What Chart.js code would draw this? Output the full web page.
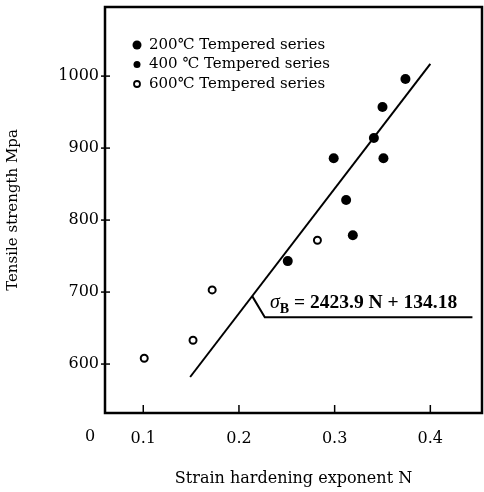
<!DOCTYPE html>
<html>
<head>
<meta charset="utf-8">
<script src="https://cdn.jsdelivr.net/npm/chart.js@4.4.1/dist/chart.umd.min.js"></script>
<style>
    html, body { margin: 0; padding: 0; background: #fff; }
    #wrap { width: 484px; height: 492px; }
</style>
</head>
<body>
<div id="wrap"><canvas id="strengthChart" width="484" height="492"></canvas></div>
<script>
// data
const series200Label = '200℃ Tempered series';
const series400Label = '400 ℃ Tempered series';
const series600Label = '600℃ Tempered series';

const nValues200 = [0.374, 0.350, 0.341, 0.351, 0.299];
const strength200 = [996, 957, 914, 886, 886];

const nValues400 = [0.312, 0.319, 0.251];
const strength400 = [828, 779, 743];

const nValues600 = [0.282, 0.172, 0.152, 0.101];
const strength600 = [772, 703, 633, 608];

const fitN = [0.149, 0.400];
const fitStrength = [582, 1017];

const leaderN = [0.214, 0.227, 0.444];
const leaderStrength = [694, 665, 665];

const xTicks = [0.1, 0.2, 0.3, 0.4];
const yTicks = [600, 700, 800, 900, 1000];
const equationText = ' = 2423.9 N + 134.18';

function toPoints(xs, ys) {
    return xs.map((x, i) => ({ x: x, y: ys[i] }));
}

const serif = '"DejaVu Serif", "Liberation Serif", serif';
const times = '"Liberation Serif", serif';

// frame, inward ticks, legend, equation and the "0" label
const extrasPlugin = {
    id: 'extras',
    afterDraw(chart) {
        const ctx = chart.ctx;
        const area = chart.chartArea;
        const xs = chart.scales.x;
        const ys = chart.scales.y;
        ctx.save();
        ctx.strokeStyle = '#000';
        ctx.lineWidth = 2.5;
        ctx.strokeRect(area.left, area.top, area.right - area.left, area.bottom - area.top);

        ctx.lineWidth = 1.5;
        xTicks.forEach(t => {
            const px = xs.getPixelForValue(t);
            ctx.beginPath();
            ctx.moveTo(px, area.bottom);
            ctx.lineTo(px, area.bottom - 8);
            ctx.stroke();
        });
        yTicks.forEach(t => {
            const py = ys.getPixelForValue(t);
            ctx.beginPath();
            ctx.moveTo(area.left - 4, py);
            ctx.lineTo(area.left + 5, py);
            ctx.stroke();
        });

        ctx.fillStyle = '#000';
        ctx.font = '16px ' + serif;
        ctx.textBaseline = 'middle';
        ctx.textAlign = 'center';
        ctx.fillText('0', area.left - 15, 437);

        // legend inside the plot
        ctx.textAlign = 'left';
        ctx.font = '15px ' + serif;
        const rows = [
            { label: series200Label, r: 4.5, fill: true },
            { label: series400Label, r: 3.5, fill: true },
            { label: series600Label, r: 3, fill: false }
        ];
        rows.forEach((row, i) => {
            const y = 45 + i * 19.5;
            ctx.beginPath();
            ctx.arc(137, y, row.r, 0, Math.PI * 2);
            if (row.fill) {
                ctx.fill();
            } else {
                ctx.lineWidth = 1.8;
                ctx.stroke();
            }
            ctx.fillText(row.label, 149, y);
        });

        // equation
        const ex = 270;
        const ey = 303;
        ctx.font = 'italic 20px ' + times;
        ctx.fillText('σ', ex, ey);
        const sw = ctx.measureText('σ').width;
        ctx.font = 'bold 14px ' + times;
        ctx.fillText('B', ex + sw, ey + 6);
        const bw = ctx.measureText('B').width;
        ctx.font = 'bold 19.5px ' + times;
        ctx.fillText(equationText, ex + sw + bw, ey);
        ctx.restore();
    }
};

function noScalePadding(s) {
    s.paddingTop = 0;
    s.paddingBottom = 0;
    s.paddingLeft = 0;
    s.paddingRight = 0;
}

const ctx = document.getElementById('strengthChart').getContext('2d');
new Chart(ctx, {
    type: 'scatter',
    data: {
        datasets: [
            {
                label: 'fit',
                data: toPoints(fitN, fitStrength),
                showLine: true,
                borderColor: '#000',
                borderWidth: 2,
                pointRadius: 0
            },
            {
                label: 'leader',
                data: toPoints(leaderN, leaderStrength),
                showLine: true,
                borderColor: '#000',
                borderWidth: 2,
                pointRadius: 0
            },
            {
                label: series200Label,
                data: toPoints(nValues200, strength200),
                pointRadius: 5,
                backgroundColor: '#000',
                borderColor: '#000',
                borderWidth: 0
            },
            {
                label: series400Label,
                data: toPoints(nValues400, strength400),
                pointRadius: 5,
                backgroundColor: '#000',
                borderColor: '#000',
                borderWidth: 0
            },
            {
                label: series600Label,
                data: toPoints(nValues600, strength600),
                pointRadius: 3.5,
                backgroundColor: '#fff',
                borderColor: '#000',
                borderWidth: 2
            }
        ]
    },
    options: {
        responsive: false,
        animation: false,
        layout: { autoPadding: false, padding: { left: 0, right: 2, top: 7, bottom: 0 } },
        plugins: {
            legend: { display: false },
            tooltip: { enabled: false }
        },
        scales: {
            x: {
                type: 'linear',
                min: 0.06,
                max: 0.454,
                afterBuildTicks: s => { s.ticks = xTicks.map(v => ({ value: v })); },
                afterFit: s => { s.height = 79; noScalePadding(s); },
                grid: { display: false, drawTicks: false },
                border: { display: false },
                ticks: {
                    color: '#000',
                    padding: 16,
                    font: { family: serif, size: 16 },
                    callback: v => v.toFixed(1)
                },
                title: {
                    display: true,
                    text: 'Strain hardening exponent N',
                    color: '#000',
                    font: { family: serif, size: 16 },
                    padding: { top: 0, bottom: 4 }
                }
            },
            y: {
                type: 'linear',
                min: 532,
                max: 1096,
                afterBuildTicks: s => { s.ticks = yTicks.map(v => ({ value: v })); },
                afterFit: s => { s.width = 105; noScalePadding(s); },
                grid: { display: false, drawTicks: false },
                border: { display: false },
                ticks: {
                    color: '#000',
                    padding: 6,
                    font: { family: serif, size: 16 },
                    callback: v => String(v)
                },
                title: {
                    display: true,
                    text: 'Tensile strength Mpa',
                    color: '#000',
                    font: { family: serif, size: 15 },
                    padding: { top: 4, bottom: 4 }
                }
            }
        }
    },
    plugins: [extrasPlugin]
});
</script>
</body>
</html>
